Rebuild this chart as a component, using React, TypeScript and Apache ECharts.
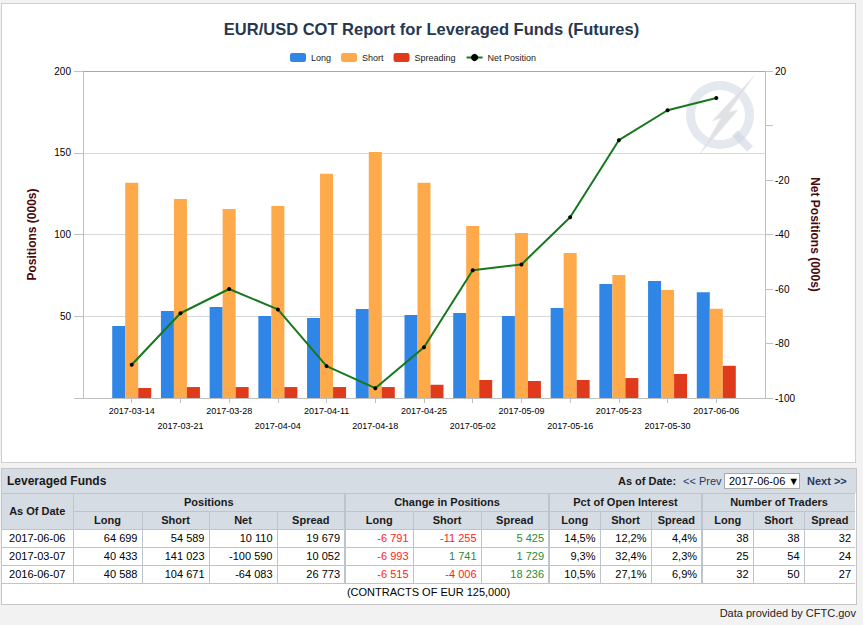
import React, { useEffect, useRef } from 'react';
import * as echarts from 'echarts';

// ---------- chart data (thousands of contracts) ----------
const dates = [
  '2017-03-14', '2017-03-21', '2017-03-28', '2017-04-04', '2017-04-11', '2017-04-18', '2017-04-25',
  '2017-05-02', '2017-05-09', '2017-05-16', '2017-05-23', '2017-05-30', '2017-06-06',
];
const longVals = [44.0, 53.2, 55.7, 50.2, 48.9, 54.4, 50.8, 52.0, 50.2, 55.0, 69.7, 71.6, 64.7];
const shortVals = [131.7, 121.7, 115.6, 117.4, 137.2, 150.5, 131.7, 105.2, 100.9, 88.7, 75.2, 66.1, 54.6];
const spreadVals = [6.1, 6.7, 6.7, 6.7, 6.7, 6.7, 8.1, 11.0, 10.4, 11.0, 12.2, 14.7, 19.7];
const netVals = [-87.8, -68.9, -60.0, -67.5, -88.3, -96.4, -81.4, -53.1, -51.0, -33.7, -5.4, 5.6, 10.1];

const leftMin = 0;
const leftMax = 200;
const leftInterval = 50;
const rightMin = -100;
const rightMax = 20;
const rightInterval = 20;

// ---------- table data ----------
const tableDates = ['2017-06-06', '2017-03-07', '2016-06-07'];
const posLong = [64699, 40433, 40588];
const posShort = [54589, 141023, 104671];
const posNet = [10110, -100590, -64083];
const posSpread = [19679, 10052, 26773];
const chgLong = [-6791, -6993, -6515];
const chgShort = [-11255, 1741, -4006];
const chgSpread = [5425, 1729, 18236];
const pctLong = [14.5, 9.3, 10.5];
const pctShort = [12.2, 32.4, 27.1];
const pctSpread = [4.4, 2.3, 6.9];
const trdLong = [38, 25, 32];
const trdShort = [38, 54, 50];
const trdSpread = [32, 24, 27];

const fmtNum = (n: number) => {
  const s = Math.abs(n).toString().replace(/\B(?=(\d{3})+(?!\d))/g, ' ');
  return (n < 0 ? '-' : '') + s;
};
const fmtPct = (n: number) => n.toFixed(1).replace('.', ',') + '%';

const FONT = '"Liberation Sans", Arial, sans-serif';
const HDR_BG = '#d6dce4';
const BORD = '#bcc4ce';

export default function App() {
  const ref = useRef<HTMLDivElement>(null);

  useEffect(() => {
    if (!ref.current) return;
    const chart = echarts.init(ref.current, undefined, { renderer: 'svg' });
    const cats = ['', ...dates, ''];
    const pad = (a: number[]) => [null, ...a, null];
    const option = {
      animation: false,
      textStyle: { fontFamily: FONT },
      title: {
        text: 'EUR/USD COT Report for Leveraged Funds (Futures)',
        left: 'center',
        top: 15,
        textStyle: { fontSize: 16.5, fontWeight: 'bold', color: '#26384f', fontFamily: FONT },
      },
      legend: {
        left: 285,
        top: 48,
        itemWidth: 16,
        itemHeight: 9,
        itemGap: 10,
        textStyle: { fontSize: 9, color: '#222', fontFamily: FONT },
        data: ['Long', 'Short', 'Spreading', 'Net Position'],
      },
      grid: { left: 83, top: 71, width: 682, height: 327 },
      xAxis: {
        type: 'category',
        data: cats,
        boundaryGap: false,
        axisLine: { lineStyle: { color: '#c0c0c0', width: 1 } },
        axisTick: {
          show: true,
          length: 5,
          interval: (i: number) => i > 0 && i < cats.length - 1,
          lineStyle: { color: '#c0c0c0' },
        },
        axisLabel: {
          interval: 0,
          fontSize: 9,
          color: '#000',
          margin: 5,
          lineHeight: 15,
          formatter: (v: string, i: number) => (v === '' ? '' : i % 2 === 1 ? v : '\n' + v),
        },
        splitLine: { show: false },
      },
      yAxis: [
        {
          type: 'value',
          position: 'left',
          min: leftMin,
          max: leftMax,
          interval: leftInterval,
          axisLine: { show: true, lineStyle: { color: '#c0c0c0' } },
          axisTick: { show: true, length: 9, lineStyle: { color: '#c0c0c0' } },
          axisLabel: {
            fontSize: 10,
            color: '#000',
            margin: 12,
            formatter: (v: number) => (v === 0 ? '' : String(v)),
          },
          splitLine: { lineStyle: { color: ['#d8d8d8', '#d8d8d8', '#d8d8d8', '#d8d8d8', '#a8a8a8'] } },
          name: 'Positions (000s)',
          nameLocation: 'middle',
          nameGap: 45,
          nameRotate: 90,
          nameTextStyle: { fontWeight: 'bold', fontSize: 12, color: '#4a0a0a', fontFamily: FONT },
        },
        {
          type: 'value',
          position: 'right',
          min: rightMin,
          max: rightMax,
          interval: rightInterval,
          axisLine: { show: true, lineStyle: { color: '#c0c0c0' } },
          axisTick: { show: true, length: 8, lineStyle: { color: '#c0c0c0' } },
          axisLabel: {
            fontSize: 10,
            color: '#000',
            margin: 10,
            formatter: (v: number) => (v === 0 ? '' : String(v)),
          },
          splitLine: { show: false },
          name: 'Net Positions (000s)',
          nameLocation: 'middle',
          nameGap: 44,
          nameRotate: -90,
          nameTextStyle: { fontWeight: 'bold', fontSize: 12, color: '#4a0a0a', fontFamily: FONT },
        },
      ],
      graphic: [
        {
          type: 'ring',
          z: 0,
          shape: { cx: 720, cy: 115, r: 34, r0: 25 },
          style: { fill: 'rgba(205,214,226,0.55)' },
        },
        {
          type: 'line',
          z: 0,
          shape: { x1: 735, y1: 133, x2: 750, y2: 149 },
          style: { stroke: 'rgba(205,214,226,0.6)', lineWidth: 8 },
        },
        {
          type: 'polygon',
          z: 0,
          shape: {
            points: [[754, 76], [729, 112], [738, 110], [700, 154], [721, 118], [712, 121]],
          },
          style: { fill: 'rgba(218,220,225,0.85)', stroke: 'rgba(235,237,240,0.9)', lineWidth: 1 },
        },
      ],
      series: [
        {
          name: 'Long',
          type: 'bar',
          data: pad(longVals),
          barWidth: 13,
          barGap: '0%',
          itemStyle: { color: '#2f86e6' },
          z: 3,
        },
        {
          name: 'Short',
          type: 'bar',
          data: pad(shortVals),
          barWidth: 13,
          barGap: '0%',
          itemStyle: { color: '#fea94a' },
          z: 3,
        },
        {
          name: 'Spreading',
          type: 'bar',
          data: pad(spreadVals),
          barWidth: 13,
          barGap: '0%',
          itemStyle: { color: '#e03a1c' },
          z: 3,
        },
        {
          name: 'Net Position',
          type: 'line',
          yAxisIndex: 1,
          data: pad(netVals),
          symbol: 'circle',
          symbolSize: 4,
          showSymbol: true,
          color: '#16781e',
          lineStyle: { color: '#16781e', width: 2 },
          itemStyle: { color: '#000' },
          z: 5,
        },
      ],
    };
    chart.setOption(option as any);
    return () => chart.dispose();
  }, []);

  const td = (extra: React.CSSProperties = {}): React.CSSProperties => ({
    border: `1px solid ${BORD}`,
    padding: '0 4px',
    height: 17,
    lineHeight: '17px',
    fontSize: 11,
    whiteSpace: 'nowrap',
    overflow: 'hidden',
    textAlign: 'right',
    color: '#000',
    background: '#fff',
    ...extra,
  });
  const th = (extra: React.CSSProperties = {}): React.CSSProperties => ({
    ...td(),
    background: HDR_BG,
    fontWeight: 'bold',
    textAlign: 'center',
    color: '#1a1a1a',
    ...extra,
  });
  const grpL: React.CSSProperties = { borderLeft: `2px solid ${BORD}` };
  const chgColor = (n: number) => (n < 0 ? '#ff1a1a' : '#2e8b2e');
  const colW = [71, 69, 67, 68, 68, 68, 68, 68, 51, 51, 51, 51, 51, 51];

  return (
    <div
      style={{
        position: 'absolute',
        left: 0,
        top: 0,
        width: 863,
        height: 625,
        background: '#f2f2f2',
        fontFamily: FONT,
        overflow: 'hidden',
      }}
    >
      <div
        style={{
          position: 'absolute',
          left: 1,
          top: 3,
          width: 855,
          height: 460,
          boxSizing: 'border-box',
          background: '#fff',
          border: '1px solid #cfcfcf',
        }}
      />
      <div ref={ref} style={{ position: 'absolute', left: 0, top: 0, width: 863, height: 466 }} />

      <div
        style={{
          position: 'absolute',
          left: 1,
          top: 468,
          width: 856,
          height: 137,
          boxSizing: 'border-box',
          background: '#fff',
          border: '1px solid #c6c6c6',
        }}
      >
        <div style={{ position: 'relative', height: 24, background: HDR_BG }}>
          <div style={{ position: 'absolute', left: 5, top: 5, fontSize: 12, fontWeight: 'bold', color: '#1a1a1a' }}>
            Leveraged Funds
          </div>
          <div style={{ position: 'absolute', left: 616, top: 6, fontSize: 11, fontWeight: 'bold', color: '#1a1a1a' }}>
            As of Date:
          </div>
          <div style={{ position: 'absolute', left: 681, top: 6, fontSize: 11, color: '#1f3b63' }}>{'<< Prev'}</div>
          <div
            style={{
              position: 'absolute',
              left: 722,
              top: 4,
              width: 76,
              height: 16,
              boxSizing: 'border-box',
              border: '1px solid #a9a9a9',
              background: '#fff',
              fontSize: 11,
              lineHeight: '14px',
              paddingLeft: 4,
              color: '#000',
              whiteSpace: 'nowrap',
              overflow: 'hidden',
            }}
          >
            2017-06-06 ▼
          </div>
          <div style={{ position: 'absolute', left: 805, top: 6, fontSize: 11, fontWeight: 'bold', color: '#1f3b63' }}>
            {'Next >>'}
          </div>
        </div>
        <table style={{ borderCollapse: 'collapse', tableLayout: 'fixed', width: 853, fontFamily: FONT }}>
          <colgroup>
            {colW.map((w, i) => (
              <col key={i} style={{ width: w }} />
            ))}
          </colgroup>
          <tbody>
            <tr>
              <td rowSpan={2} style={th({ borderLeft: 'none' })}>
                As Of Date
              </td>
              <td colSpan={4} style={th()}>
                Positions
              </td>
              <td colSpan={3} style={th(grpL)}>
                Change in Positions
              </td>
              <td colSpan={3} style={th(grpL)}>
                Pct of Open Interest
              </td>
              <td colSpan={3} style={th({ ...grpL, borderRight: 'none' })}>
                Number of Traders
              </td>
            </tr>
            <tr>
              <td style={th()}>Long</td>
              <td style={th()}>Short</td>
              <td style={th()}>Net</td>
              <td style={th()}>Spread</td>
              <td style={th(grpL)}>Long</td>
              <td style={th()}>Short</td>
              <td style={th()}>Spread</td>
              <td style={th(grpL)}>Long</td>
              <td style={th()}>Short</td>
              <td style={th()}>Spread</td>
              <td style={th(grpL)}>Long</td>
              <td style={th()}>Short</td>
              <td style={th({ borderRight: 'none' })}>Spread</td>
            </tr>
            {tableDates.map((d, r) => (
              <tr key={d}>
                <td style={td({ textAlign: 'center', borderLeft: 'none' })}>{d}</td>
                <td style={td()}>{fmtNum(posLong[r])}</td>
                <td style={td()}>{fmtNum(posShort[r])}</td>
                <td style={td()}>{fmtNum(posNet[r])}</td>
                <td style={td()}>{fmtNum(posSpread[r])}</td>
                <td style={td({ ...grpL, color: chgColor(chgLong[r]) })}>{fmtNum(chgLong[r])}</td>
                <td style={td({ color: chgColor(chgShort[r]) })}>{fmtNum(chgShort[r])}</td>
                <td style={td({ color: chgColor(chgSpread[r]) })}>{fmtNum(chgSpread[r])}</td>
                <td style={td(grpL)}>{fmtPct(pctLong[r])}</td>
                <td style={td()}>{fmtPct(pctShort[r])}</td>
                <td style={td()}>{fmtPct(pctSpread[r])}</td>
                <td style={td(grpL)}>{trdLong[r]}</td>
                <td style={td()}>{trdShort[r]}</td>
                <td style={td({ borderRight: 'none' })}>{trdSpread[r]}</td>
              </tr>
            ))}
            <tr>
              <td colSpan={14} style={td({ textAlign: 'center', borderLeft: 'none', borderRight: 'none', borderBottom: 'none' })}>
                (CONTRACTS OF EUR 125,000)
              </td>
            </tr>
          </tbody>
        </table>
      </div>

      <div style={{ position: 'absolute', right: 7, top: 607, fontSize: 11, color: '#222' }}>
        Data provided by CFTC.gov
      </div>
    </div>
  );
}
